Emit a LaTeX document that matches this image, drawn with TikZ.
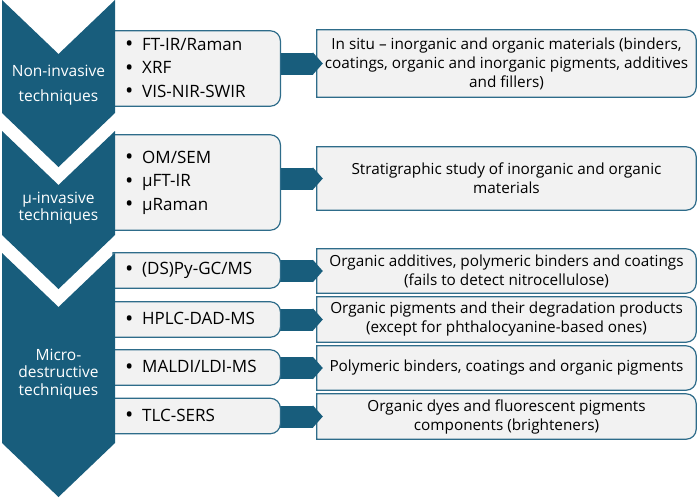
\documentclass[tikz,border=0pt]{standalone}
\usepackage{fontspec}
\setmainfont{Open Sans}
\usetikzlibrary{arrows.meta,backgrounds}

\definecolor{chevblue}{RGB}{24,93,124}
\definecolor{edgeblue}{RGB}{46,108,138}
\definecolor{boxgray}{RGB}{242,242,242}

% bullet with fixed room before the item
\newcommand{\itm}[1]{\makebox[17pt][l]{\raisebox{-1.5pt}{\scalebox{1.3}{\textbullet}}}#1}

% outline with square left and round right corners
\newcommand{\halfround}[1]{%
    \draw[boxedge] (#1.north west) -- (#1.north) [rounded corners=10pt] -- (#1.north east)
        -- (#1.south east) -- (#1.south) [sharp corners] -- (#1.south west) -- cycle;}

\tikzset{
    chevron/.style={fill=chevblue},
    chevtext/.style={text=white, align=center, font=\fontsize{15.5}{17.5}\selectfont},
    techbox/.style={anchor=west, minimum width=167pt, inner xsep=12pt, inner ysep=0pt,
        text width=143pt, align=left, font=\fontsize{17}{23.5}\selectfont},
    resbox/.style={minimum width=379pt, inner sep=0pt, align=center,
        font=\fontsize{15.3}{19}\selectfont},
    boxedge/.style={draw=edgeblue, fill=boxgray, line width=1.2pt},
    fatarrow/.style={draw=chevblue, line width=22pt, -{Triangle[length=10pt,width=22pt]}}
}

\begin{document}
\begin{tikzpicture}[x=1pt, y=-1pt]
        \useasboundingbox (0,0) rectangle (700,498);

        % Technique boxes
        \node[techbox, minimum height=75pt] (m1) at (113,68.5) {\itm{FT-IR/Raman}\\\itm{XRF}\\\itm{VIS-NIR-SWIR}};
        \node[techbox, minimum height=95pt] (m2) at (113,182.5) {\itm{OM/SEM}\\\itm{µFT-IR}\\\itm{µRaman}};
        \node[techbox, minimum height=35pt] (m3) at (113,270.5) {\itm{(DS)Py-GC/MS}};
        \node[techbox, minimum height=35pt] (m4) at (113,319.5) {\itm{HPLC-DAD-MS}};
        \node[techbox, minimum height=35pt] (m5) at (113,367.5) {\itm{MALDI/LDI-MS}};
        \node[techbox, minimum height=35pt] (m6) at (113,416) {\itm{TLC-SERS}};

        % Result boxes
        \node[resbox, minimum height=67pt] (r1) at (506.5,63.5) {In situ -- inorganic and organic materials (binders,\\coatings, organic and inorganic pigments, additives\\and fillers)};
        \node[resbox, minimum height=63pt] (r2) at (506.5,178.5) {Stratigraphic study of inorganic and organic\\materials};
        \node[resbox, minimum height=44pt] (r3) at (506.5,271) {Organic additives, polymeric binders and coatings\\(fails to detect nitrocellulose)};
        \node[resbox, minimum height=45pt] (r4) at (506.5,319.5) {Organic pigments and their degradation products\\(except for phthalocyanine-based ones)};
        \node[resbox, minimum height=44pt] (r5) at (506.5,368) {Polymeric binders, coatings and organic pigments};
        \node[resbox, minimum height=45pt] (r6) at (506.5,416.5) {Organic dyes and fluorescent pigments\\components (brighteners)};

        % Box outlines and arrows go behind the text
        \begin{scope}[on background layer]
            \foreach \r in {r1,r2,r3,r4,r5,r6}
                {\halfround{\r}}
            \foreach \i in {1,...,6}
                \draw[fatarrow] (m\i.center |- r\i.west) -- ([xshift=6pt]r\i.west);
            \foreach \m in {m1,m2,m3,m4,m5,m6}
                {\halfround{\m}}
        \end{scope}

        % Draw the chevrons
        \foreach \t/\b in {0/113, 131/235, 253/443}
            \fill[chevron] (2,\t) -- (58.5,\t+54) -- (115,\t) -- (115,\b) -- (58.5,\b+54) -- (2,\b) -- cycle;

        % Add chevron labels
        \node[chevtext] (c1) at (58.5,85) {Non-invasive\\[8pt]techniques};
        \node[chevtext] (c2) at (58.5,208) {µ-invasive\\techniques};
        \node[chevtext] (c3) at (58.5,374) {Micro-\\destructive\\techniques};
    \end{tikzpicture}
\end{document}
